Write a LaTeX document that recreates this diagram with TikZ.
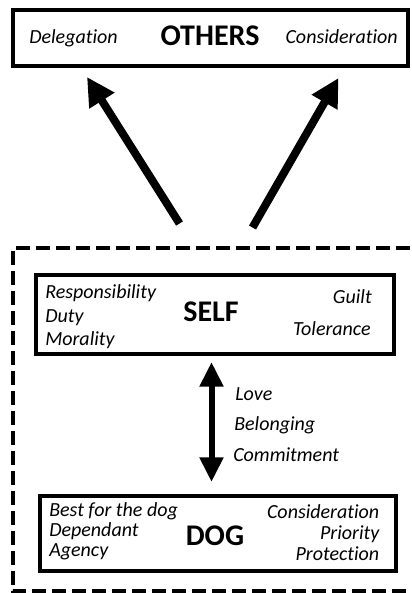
\documentclass[tikz,border=0pt]{standalone}
\usepackage{fontspec}
\setmainfont[Ligatures=NoCommon]{Carlito}
\usetikzlibrary{arrows.meta}
\tikzset{
  box/.style={draw=black, line width=3pt, fill=white, inner sep=0pt, outer sep=0pt},
  it/.style={inner sep=0pt, font=\fontsize{15}{18}\selectfont\itshape},
  big/.style={inner sep=0pt, font=\fontsize{22.5}{26}\selectfont\bfseries},
  bigarrow/.style={line width=6pt, -{Triangle[length=21pt,width=21pt]}},
  dblarrow/.style={line width=4.5pt, {Triangle[length=18.5pt,width=17pt]}-{Triangle[length=18.5pt,width=17pt]}},
  dashbox/.style={draw=black, line width=3pt, dash pattern=on 10.5pt off 4.5pt}
}
\begin{document}
\begin{tikzpicture}[x=0.75pt, y=-0.75pt]
\useasboundingbox (0,0) rectangle (411,593);
\begin{scope}
\clip (0,0) rectangle (411,593);
\draw[dashbox] (430,248) -- (12.5,248) -- (12.5,591) -- (430,591);
\end{scope}

% boxes
\node[box, minimum width=296.6pt, minimum height=42pt] (others) at (210.25,37.5) {};
\node[box, minimum width=268.5pt, minimum height=59.25pt] (self) at (214.5,314) {};
\node[box, minimum width=267pt, minimum height=56.6pt] (dog) at (217.5,533.25) {};

% OTHERS texts
\node[it, anchor=base west] (deleg) at (29,43.3) {Delegation};
\node[big, anchor=base] (otherslbl) at (210,45) {OTHERS};
\node[it, anchor=base east] (consid1) at (398,43.3) {Consideration};

% SELF texts
\node[it, anchor=base west] (resp) at (45,298.3) {Responsibility};
\node[it, anchor=base west] (duty) at (45,322.5) {Duty};
\node[it, anchor=base west] (moral) at (45,345.5) {Morality};
\node[big, anchor=base] (selflbl) at (211,321) {SELF};
\node[it, anchor=base east] (guilt) at (372,303) {Guilt};
\node[it, anchor=base east] (toler) at (371,335) {Tolerance};

% DOG texts
\node[it, anchor=base west] (best) at (49,516) {Best for the dog};
\node[it, anchor=base west] (depend) at (49,536.5) {Dependant};
\node[it, anchor=base west] (agency) at (49,556.5) {Agency};
\node[big, anchor=base] (doglbl) at (215,545.5) {DOG};
\node[it, anchor=base east] (consid2) at (379.5,518) {Consideration};
\node[it, anchor=base east] (prio) at (379.5,539.5) {Priority};
\node[it, anchor=base east] (prot) at (379.5,560) {Protection};

% middle labels
\node[it, anchor=base west] (love) at (235,400) {Love};
\node[it, anchor=base west] (belong) at (234,430) {Belonging};
\node[it, anchor=base west] (commit) at (233,461.5) {Commitment};

% connectors
\coordinate (lt) at (179.5,223.5);
\coordinate (lh) at (87,77);
\coordinate (rt) at (252.5,227.5);
\coordinate (rh) at (338.5,78);
\draw[bigarrow] (lt) -- (lh);
\draw[bigarrow] (rt) -- (rh);

\coordinate (dtop) at (211.5,362);
\coordinate (dbot) at (211.5,482);
\draw[dblarrow] (dtop) -- (dbot);
\end{tikzpicture}
\end{document}
